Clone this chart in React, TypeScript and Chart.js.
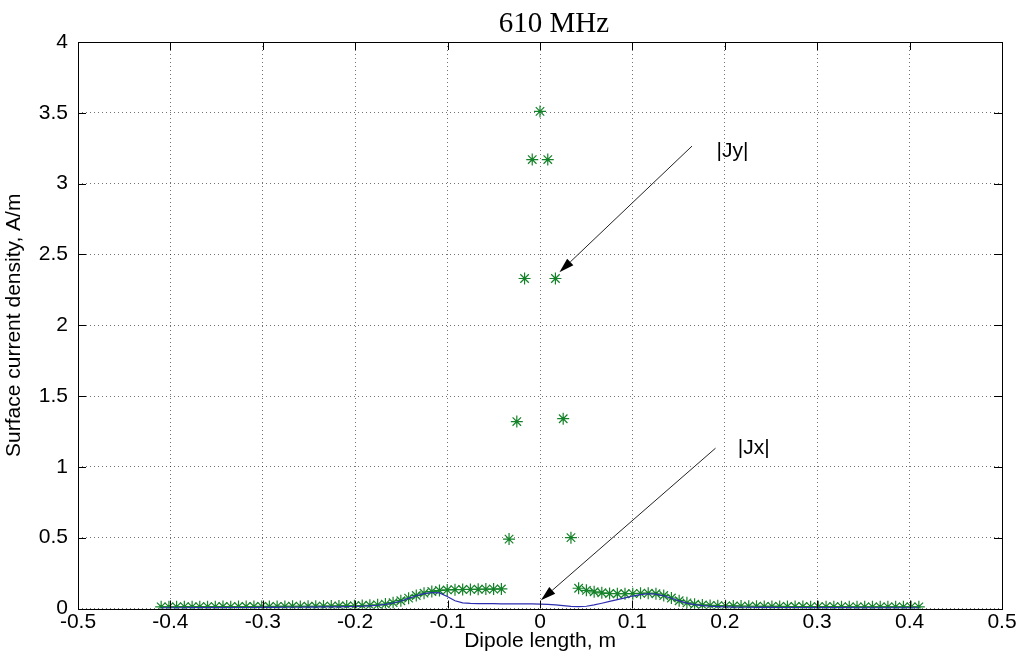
import React, { useEffect, useRef } from 'react';
import { Chart, registerables } from 'chart.js';

Chart.register(...registerables);

const titleText = '610 MHz';
const xAxisTitle = 'Dipole length, m';
const yAxisTitle = 'Surface current density, A/m';

const xPositions = [
  -0.4100, -0.4016, -0.3933, -0.3849, -0.3765, -0.3682, -0.3598, -0.3514, -0.3431, -0.3347,
  -0.3263, -0.3180, -0.3096, -0.3012, -0.2929, -0.2845, -0.2761, -0.2678, -0.2594, -0.2510,
  -0.2427, -0.2343, -0.2259, -0.2176, -0.2092, -0.2008, -0.1924, -0.1841, -0.1757, -0.1673,
  -0.1590, -0.1506, -0.1422, -0.1339, -0.1255, -0.1171, -0.1088, -0.1004, -0.0920, -0.0837,
  -0.0753, -0.0669, -0.0586, -0.0502, -0.0418, -0.0335, -0.0251, -0.0167, -0.0084,
  0,
  0.0084, 0.0167, 0.0251, 0.0335, 0.0418, 0.0502, 0.0586, 0.0669, 0.0753,
  0.0837, 0.0920, 0.1004, 0.1088, 0.1171, 0.1255, 0.1339, 0.1422, 0.1506, 0.1590,
  0.1673, 0.1757, 0.1841, 0.1924, 0.2008, 0.2092, 0.2176, 0.2259, 0.2343, 0.2427,
  0.2510, 0.2594, 0.2678, 0.2761, 0.2845, 0.2929, 0.3012, 0.3096, 0.3180, 0.3263,
  0.3347, 0.3431, 0.3514, 0.3598, 0.3682, 0.3765, 0.3849, 0.3933, 0.4016, 0.4100,
];

const jyValues = [
  0.012, 0.012, 0.012, 0.013, 0.012, 0.013, 0.013, 0.013, 0.014, 0.013,
  0.014, 0.014, 0.014, 0.015, 0.014, 0.015, 0.015, 0.016, 0.015, 0.016,
  0.016, 0.017, 0.017, 0.018, 0.018, 0.019, 0.021, 0.023, 0.026, 0.031,
  0.041, 0.055, 0.073, 0.092, 0.108, 0.120, 0.127, 0.131, 0.133, 0.134,
  0.135, 0.136, 0.137, 0.137, 0.138, 0.49, 1.32, 2.33, 3.17,
  3.51,
  3.17, 2.33, 1.34, 0.50, 0.143, 0.128, 0.118, 0.111, 0.106,
  0.104, 0.104, 0.105, 0.107, 0.108, 0.104, 0.092, 0.074, 0.055, 0.040,
  0.030, 0.025, 0.022, 0.020, 0.019, 0.018, 0.017, 0.016, 0.016, 0.015,
  0.015, 0.015, 0.014, 0.014, 0.014, 0.013, 0.013, 0.013, 0.013, 0.013,
  0.012, 0.012, 0.012, 0.012, 0.012, 0.012, 0.012, 0.012, 0.012, 0.012,
];

const jxValues = [
  0.005, 0.005, 0.005, 0.005, 0.006, 0.006, 0.006, 0.006, 0.006, 0.007,
  0.007, 0.007, 0.007, 0.008, 0.008, 0.008, 0.009, 0.009, 0.009, 0.010,
  0.010, 0.011, 0.011, 0.012, 0.013, 0.014, 0.016, 0.019, 0.023, 0.029,
  0.039, 0.053, 0.071, 0.090, 0.105, 0.113, 0.110, 0.085, 0.055, 0.040,
  0.036, 0.035, 0.034, 0.034, 0.033, 0.033, 0.033, 0.032, 0.032,
  0.031,
  0.029, 0.025, 0.020, 0.015, 0.013, 0.016, 0.025, 0.037, 0.050,
  0.063, 0.075, 0.088, 0.098, 0.104, 0.102, 0.090, 0.072, 0.054, 0.038,
  0.027, 0.020, 0.016, 0.013, 0.011, 0.010, 0.009, 0.009, 0.008, 0.008,
  0.008, 0.007, 0.007, 0.007, 0.007, 0.006, 0.006, 0.006, 0.006, 0.006,
  0.006, 0.005, 0.005, 0.005, 0.005, 0.005, 0.005, 0.005, 0.005, 0.005,
];

const annotationLabels = ['|Jy|', '|Jx|'];
const arrowFromX = [0.1645, 0.19];
const arrowFromY = [3.265, 1.132];
const arrowToX = [0.021, 0.001];
const arrowToY = [2.374, 0.059];
const labelX = [0.191, 0.214];
const labelY = [3.23, 1.13];

const SANS = '"Liberation Sans", Arial, Helvetica, sans-serif';
const SERIF = '"Liberation Serif", "Times New Roman", serif';

export default function App() {
  const ref = useRef<HTMLCanvasElement>(null);

  useEffect(() => {
    document.body.style.margin = '0';
    const canvas = ref.current;
    if (!canvas) return;

    const decor = {
      id: 'decor',
      afterDatasetsDraw(chart: any) {
        const { ctx, chartArea } = chart;
        const { left, right, top, bottom } = chartArea;
        const xs = chart.scales.x;
        const ys = chart.scales.y;
        ctx.save();
        // box
        ctx.strokeStyle = '#000';
        ctx.lineWidth = 1;
        ctx.setLineDash([]);
        ctx.strokeRect(Math.round(left) + 0.5, Math.round(top) + 0.5, Math.round(right - left), Math.round(bottom - top));
        // inward ticks
        const tl = 8;
        ctx.beginPath();
        xs.ticks.forEach((t: any) => {
          const px = Math.round(xs.getPixelForValue(t.value)) + 0.5;
          ctx.moveTo(px, bottom);
          ctx.lineTo(px, bottom - tl);
          ctx.moveTo(px, top);
          ctx.lineTo(px, top + tl);
        });
        ys.ticks.forEach((t: any) => {
          const py = Math.round(ys.getPixelForValue(t.value)) + 0.5;
          ctx.moveTo(left, py);
          ctx.lineTo(left + tl, py);
          ctx.moveTo(right, py);
          ctx.lineTo(right - tl, py);
        });
        ctx.stroke();

        // arrows and labels
        for (let i = 0; i < annotationLabels.length; i++) {
          const x0 = xs.getPixelForValue(arrowFromX[i]);
          const y0 = ys.getPixelForValue(arrowFromY[i]);
          const x1 = xs.getPixelForValue(arrowToX[i]);
          const y1 = ys.getPixelForValue(arrowToY[i]);
          const ang = Math.atan2(y1 - y0, x1 - x0);
          const hl = 15;
          const hw = 4.5;
          const bx = x1 - hl * Math.cos(ang);
          const by = y1 - hl * Math.sin(ang);
          ctx.strokeStyle = '#222';
          ctx.lineWidth = 1;
          ctx.beginPath();
          ctx.moveTo(x0, y0);
          ctx.lineTo(bx, by);
          ctx.stroke();
          ctx.fillStyle = '#000';
          ctx.beginPath();
          ctx.moveTo(x1, y1);
          ctx.lineTo(bx + hw * Math.sin(ang), by - hw * Math.cos(ang));
          ctx.lineTo(bx - hw * Math.sin(ang), by + hw * Math.cos(ang));
          ctx.closePath();
          ctx.fill();

          ctx.font = `21px ${SANS}`;
          ctx.textAlign = 'left';
          ctx.textBaseline = 'middle';
          ctx.fillText(annotationLabels[i], xs.getPixelForValue(labelX[i]), ys.getPixelForValue(labelY[i]));
        }

        // title
        ctx.font = `29px ${SERIF}`;
        ctx.textAlign = 'center';
        ctx.textBaseline = 'alphabetic';
        ctx.fillStyle = '#000';
        ctx.fillText(titleText, 554, 32);
        ctx.restore();
      },
    };

    const fmt1 = (v: any) => {
      const n = Number(v);
      if (Math.abs(n) < 1e-9) return '0';
      return n.toFixed(1);
    };
    const fmtY = (v: any) => {
      const n = Math.round(Number(v) * 10) / 10;
      return String(n);
    };

    const chart = new Chart(canvas, {
      type: 'scatter',
      data: {
        datasets: [
          {
            label: '|Jx|',
            data: xPositions.map((x, i) => ({ x, y: jxValues[i] })),
            showLine: true,
            borderColor: 'rgb(45,45,175)',
            backgroundColor: 'rgb(45,45,175)',
            borderWidth: 1.2,
            pointRadius: 0,
            tension: 0,
          },
          {
            label: '|Jy|',
            data: xPositions.map((x, i) => ({ x, y: jyValues[i] })),
            showLine: false,
            pointStyle: 'star',
            pointRadius: 6,
            borderColor: 'rgb(20,130,40)',
            backgroundColor: 'rgb(20,130,40)',
            pointBorderWidth: 1.2,
          },
        ],
      },
      options: {
        responsive: false,
        animation: false,
        events: [],
        layout: { padding: { left: 0, right: 19, top: 42, bottom: 0 } },
        plugins: {
          legend: { display: false },
          tooltip: { enabled: false },
          title: { display: false },
        },
        scales: {
          x: {
            type: 'linear',
            min: -0.5,
            max: 0.5,
            ticks: {
              stepSize: 0.1,
              autoSkip: false,
              maxRotation: 0,
              color: '#000',
              padding: 1,
              font: { family: SANS, size: 21 },
              callback: fmt1,
            },
            grid: { color: 'rgba(0,0,0,0.55)', drawTicks: false, lineWidth: 1 },
            border: { display: false, dash: [1, 3] },
            title: {
              display: true,
              text: xAxisTitle,
              color: '#000',
              font: { family: SANS, size: 21 },
              padding: { top: 0, bottom: 4 },
            },
            afterFit: (s: any) => {
              s.height = 49.5;
            },
          },
          y: {
            type: 'linear',
            min: 0,
            max: 4,
            ticks: {
              stepSize: 0.5,
              autoSkip: false,
              color: '#000',
              padding: 10,
              font: { family: SANS, size: 21 },
              callback: fmtY,
            },
            grid: { color: 'rgba(0,0,0,0.55)', drawTicks: false, lineWidth: 1 },
            border: { display: false, dash: [1, 3] },
            title: {
              display: true,
              text: yAxisTitle,
              color: '#000',
              font: { family: SANS, size: 21 },
              padding: { top: 2, bottom: 0 },
            },
            afterFit: (s: any) => {
              s.width = 78;
            },
          },
        },
      },
      plugins: [decor],
    } as any);

    return () => chart.destroy();
  }, []);

  return (
    <div style={{ width: 1021, height: 658, background: '#fff' }}>
      <canvas ref={ref} width={1021} height={658} style={{ display: 'block' }} />
    </div>
  );
}
